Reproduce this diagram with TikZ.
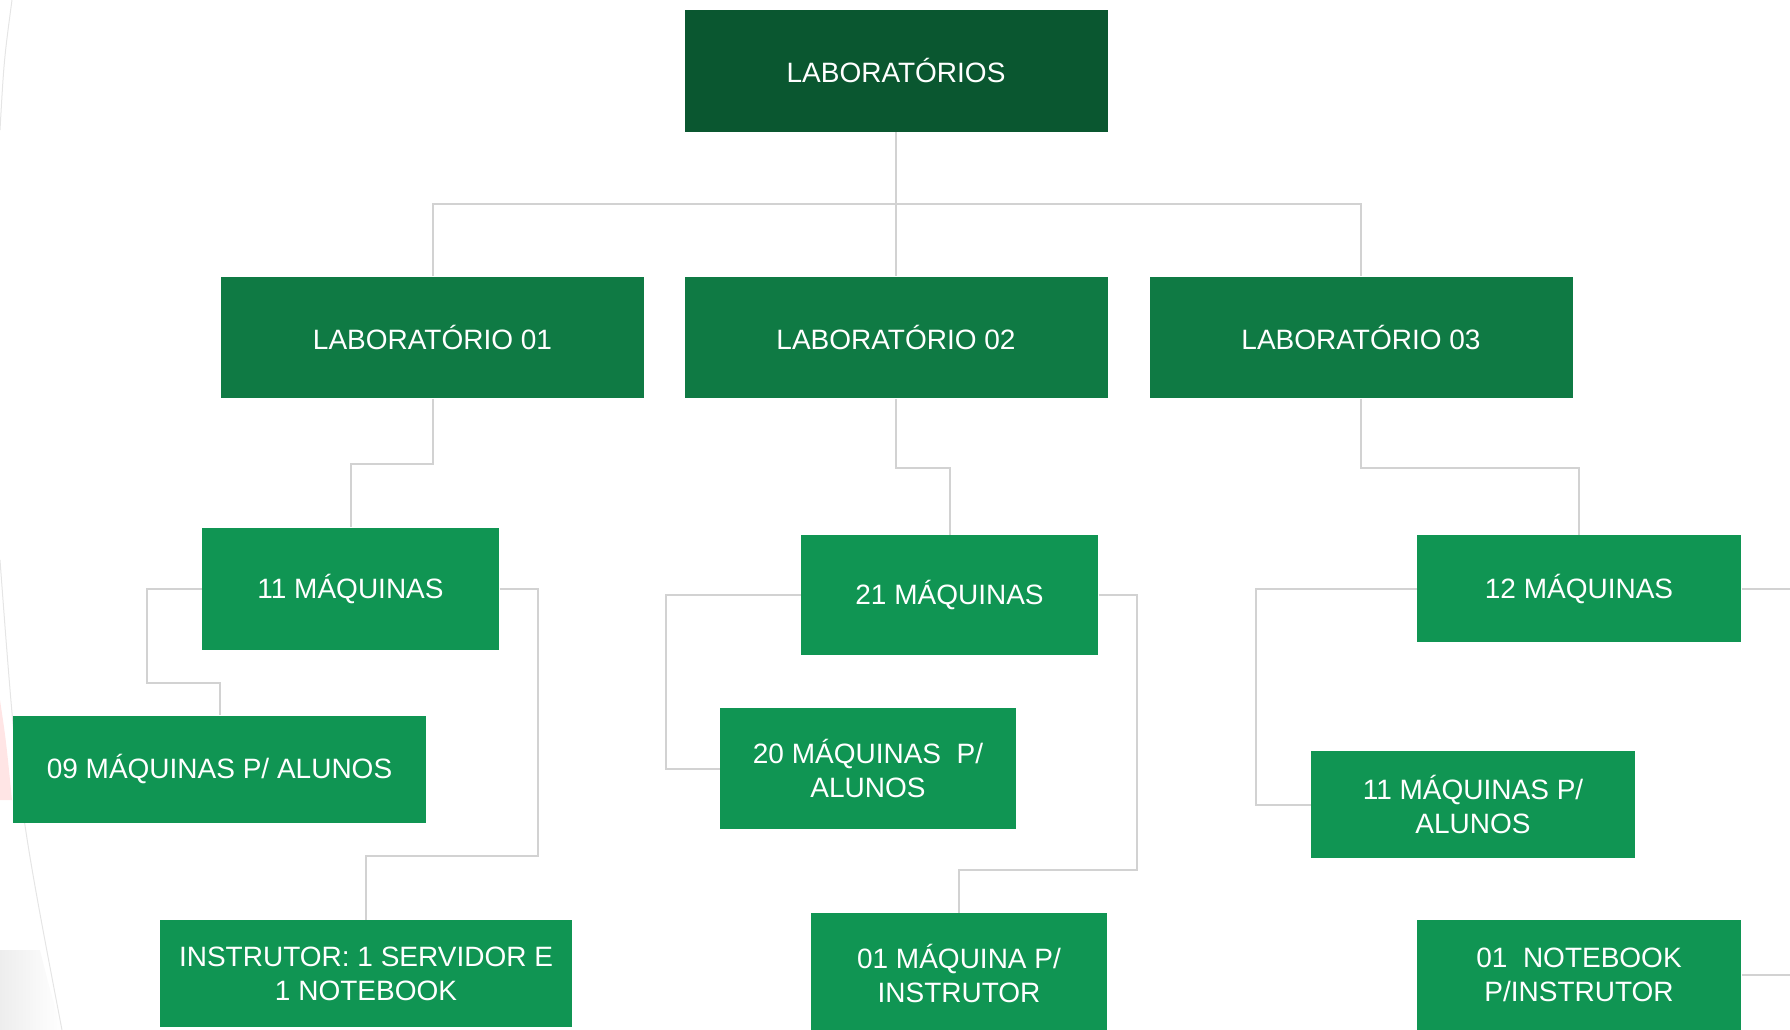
\documentclass[tikz,border=0pt]{standalone}
\usepackage{fontspec}
\setmainfont{Liberation Sans}

\definecolor{rootgreen}{HTML}{0A5730}
\definecolor{labgreen}{HTML}{0F7A44}
\definecolor{boxgreen}{HTML}{109553}
\definecolor{linkgray}{HTML}{D2D2D2}

\tikzset{every picture/.style={line width=0.75pt}}
\tikzset{
  box/.style={fill=boxgreen, text=white, align=center, inner sep=0pt,
    font=\fontsize{21}{25.5}\selectfont},
  link/.style={draw=linkgray, line width=1.5pt},
}

\begin{document}
\begin{tikzpicture}[x=0.75pt,y=0.75pt,yscale=-1]
\useasboundingbox (0,0) rectangle (1790,1030);

%Background curve at the left edge
\fill[red!20, opacity=0.5] (0,700) .. controls (6,740) .. (12,800) -- (0,800) -- cycle ;
\shade[left color=gray!14, right color=white] (40,950) .. controls (50,990) .. (62,1030) -- (0,1030) -- (0,950) -- cycle ;
\draw[gray!20] (12,0) .. controls (4,60) .. (0,130) ;
\draw[gray!20] (0,560) .. controls (18,800) .. (62,1030) ;

% Text Node
\node[box, fill=rootgreen, minimum width=317.25pt, minimum height=91.5pt] (root) at (896,71) {LABORATÓRIOS};
% Text Node
\node[box, fill=labgreen, minimum width=317.25pt, minimum height=90.75pt] (lab1) at (432.5,337.5) {LABORATÓRIO 01};
% Text Node
\node[box, fill=labgreen, minimum width=317.25pt, minimum height=90.75pt] (lab2) at (896,337.5) {LABORATÓRIO 02};
% Text Node
\node[box, fill=labgreen, minimum width=317.25pt, minimum height=90.75pt] (lab3) at (1361,337.5) {LABORATÓRIO 03};

% Text Node
\node[box, minimum width=222.75pt, minimum height=91.5pt] (maq11) at (350.5,588.5) {11 MÁQUINAS};
% Text Node
\node[box, minimum width=222.75pt, minimum height=90pt] (maq21) at (949.5,595) {21 MÁQUINAS};
% Text Node
\node[box, minimum width=243pt, minimum height=80.25pt] (maq12) at (1579,588.5) {12 MÁQUINAS};

% Text Node
\node[box, minimum width=309.75pt, minimum height=80.25pt] (alunos09) at (219.5,769) {09 MÁQUINAS P/ ALUNOS};
% Text Node
\node[box, minimum width=309pt, minimum height=80.25pt] (instrutor1) at (366,973.5) {INSTRUTOR: 1 SERVIDOR E\\1 NOTEBOOK};
% Text Node
\node[box, minimum width=222pt, minimum height=90.75pt] (alunos20) at (868,768.5) {20 MÁQUINAS\ \ P/\\ALUNOS};
% Text Node
\node[box, minimum width=222pt, minimum height=90pt] (instrutor2) at (959,973) {01 MÁQUINA P/\\INSTRUTOR};
% Text Node
\node[box, minimum width=243pt, minimum height=80.25pt] (alunos11) at (1473,804.5) {11 MÁQUINAS P/\\ALUNOS};
% Text Node
\node[box, minimum width=243pt, minimum height=82.5pt] (instrutor3) at (1579,975) {01\ \ NOTEBOOK\\P/INSTRUTOR};

\coordinate (edge12) at (1790,588.5);
\coordinate (edgenb) at (1790,975);

%Straight Lines
\draw[link] (root.south) -- (lab2.north) ;
\draw[link] (lab1.north) -- ++(0,-72) -| (lab3.north) ;
%Straight Lines
\draw[link] (lab1.south) -- ++(0,65) -| (maq11.north) ;
\draw[link] (lab2.south) -- ++(0,69) -| (maq21.north) ;
\draw[link] (lab3.south) -- ++(0,69) -| (maq12.north) ;
%Straight Lines
\draw[link] (maq11.west) -- ++(-55,0) -- ++(0,94) -| (alunos09.north) ;
\draw[link] (maq11.east) -- ++(38,0) -- ++(0,267) -| (instrutor1.north) ;
%Straight Lines
\draw[link] (maq21.west) -- ++(-135,0) |- (alunos20.west) ;
\draw[link] (maq21.east) -- ++(38,0) -- ++(0,275) -| (instrutor2.north) ;
%Straight Lines
\draw[link] (maq12.west) -- ++(-161,0) |- (alunos11.west) ;
\draw[link] (maq12.east) -- (edge12) ;
\draw[link] (instrutor3.east) -- (edgenb) ;

\end{tikzpicture}
\end{document}
